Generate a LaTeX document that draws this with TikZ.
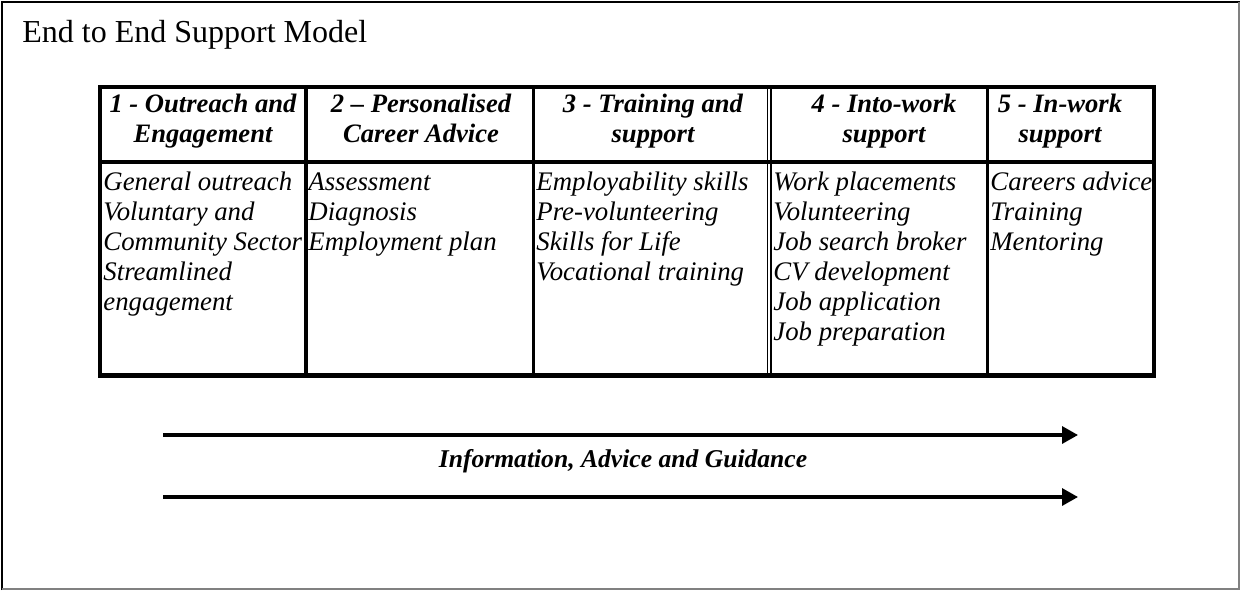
\documentclass[tikz,border=0pt]{standalone}
\usepackage{fontspec}
\setmainfont{Liberation Serif}
\usetikzlibrary{arrows.meta,positioning}
\newcommand{\cellfont}{\fontsize{13.4}{15}\selectfont\itshape}
\newcommand{\headfont}{\fontsize{13.3}{15}\selectfont\bfseries\itshape}
\newcommand{\bandfont}{\fontsize{12.8}{15}\selectfont\bfseries\itshape}

\begin{document}
\begin{tikzpicture}[x=0.5pt,y=-0.5pt,
    head/.style={anchor=base,inner sep=0pt,font=\headfont},
    entry/.style={anchor=base west,inner sep=0pt,font=\cellfont},
    rule/.style={line width=1.7pt},
    flow/.style={line width=1.65pt,-{Triangle[length=8pt,width=8.5pt]}}]
      \useasboundingbox (0,0) rectangle (1240,590);
      \begin{scope}
        \draw[line width=1pt] (2,590) -- (2,1.5) -- (1240,1.5); % frame left and top
        \draw[line width=0.6pt,gray] (1239,1.5) -- (1239,589) -- (2,589); % frame right and bottom
        \node[anchor=base west,inner sep=0pt,font=\fontsize{16}{19}\selectfont] (title) at (22,42) {End to End Support Model};
      \end{scope}
      \begin{scope}
        \draw[rule] (306,87) -- (306,375); % stage 1 | 2
        \draw[rule] (533.5,87) -- (533.5,375); % stage 2 | 3
        \draw[line width=0.75pt] (767.5,87) -- (767.5,375); % stage 3 | 4
        \draw[line width=0.75pt] (771,87) -- (771,375);
        \draw[rule] (987.5,87) -- (987.5,375); % stage 4 | 5
        \draw[rule] (100,162) -- (1154,162); % header | body
        \draw[line width=2.1pt] (100,87) rectangle (1154,375.5);
      \end{scope}
      \begin{scope}
        \foreach \cx/\la/\lb [count=\i] in {203/{1 - Outreach and}/Engagement,
            421/{2 -- Personalised}/{Career Advice},
            653/{3 - Training and}/support,
            884/{4 - Into-work}/support,
            1060/{5 - In-work}/support}
          {
            \node[head] (h\i a) at (\cx,112) {\la};
            \node[head] (h\i b) at (\cx,142) {\lb};
          }
      \end{scope}
      \begin{scope}
        \foreach \lx/\items [count=\i] in {103/{General outreach,Voluntary and,Community Sector,Streamlined,engagement},
            308/{Assessment,Diagnosis,Employment plan},
            536/{Employability skills,Pre-volunteering,Skills for Life,Vocational training},
            773/{Work placements,Volunteering,Job search broker,CV development,Job application,Job preparation},
            990/{Careers advice,Training,Mentoring}}
          {
            \foreach \t [count=\j] in \items
              \node[entry] (c\i-\j) at (\lx,{190+30*(\j-1)}) {\t};
          }
      \end{scope}
      \begin{scope}
        \coordinate (iag top start) at (163,435);
        \coordinate (iag top end) at (1078,435);
        \coordinate (iag low start) at (163,497);
        \coordinate (iag low end) at (1078,497);
        \draw[flow] (iag top start) -- (iag top end);
        \draw[flow] (iag low start) -- (iag low end);
        \node[head,font=\bandfont] (iag) at (623,467) {Information, Advice and Guidance};
      \end{scope}
    \end{tikzpicture}
\end{document}
